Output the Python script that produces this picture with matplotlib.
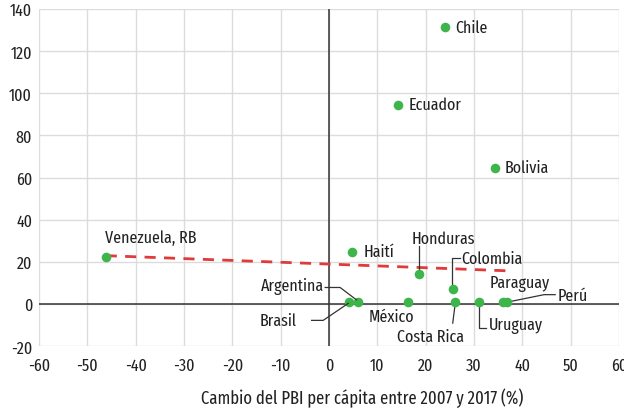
import matplotlib
matplotlib.use("Agg")
import matplotlib.pyplot as plt

countries = ["Chile", "Ecuador", "Bolivia", "Venezuela, RB", "Haití", "Honduras",
             "Colombia", "Argentina", "Brasil", "México", "Costa Rica", "Uruguay",
             "Paraguay", "Perú"]
gdp_change = [23.9, 14.2, 34.3, -46.2, 4.7, 18.6, 25.7, 5.9, 4.1, 16.4, 26.1, 31.1, 36.1, 36.8]
y_values = [131.3, 94.6, 64.8, 22.2, 24.9, 14.2, 7.2, 1.2, 1.2, 1.2, 1.2, 1.2, 1.2, 1.2]

trend_x = [-46.2, 37.0]
trend_y = [23.0, 15.8]

xticks = list(range(-60, 61, 10))
yticks = list(range(-20, 141, 20))

plt.rcParams["font.family"] = ["Fira Sans Extra Condensed", "DejaVu Sans"]
plt.rcParams["axes.unicode_minus"] = False

fig = plt.figure(figsize=(6.24, 4.14), dpi=100)
ax = fig.add_axes([39/624, 1-347.3/414, (619-39)/624, (347.3-10)/414])

ax.set_xlim(-60, 60)
ax.set_ylim(-20, 140)
ax.set_xticks(xticks)
ax.set_yticks(yticks)
ax.grid(True, color="#dcdcdc", linewidth=1)
ax.set_axisbelow(True)
for s in ax.spines.values():
    s.set_visible(False)
ax.tick_params(length=0, labelsize=12.5, colors="#222222", pad=5)
ax.tick_params(axis="x", pad=8)
ax.axhline(0, color="#333333", linewidth=1.1, zorder=1)
ax.axvline(0, color="#333333", linewidth=1.1, zorder=1)

ax.plot(trend_x, trend_y, color="#e03a3a", linestyle=(0, (4, 3)), linewidth=2, zorder=2)
ax.scatter(gdp_change, y_values, s=48, color="#3db54a", zorder=3, linewidths=0)

fs = 12.5
tc = "#222222"
lc = "#333333"
lw = 0.9

def txt(name, x, y, ha="left", va="center"):
    ax.text(x, y, name, fontsize=fs, color=tc, ha=ha, va=va, zorder=4)

txt("Chile", 26.1, 131.3)
txt("Ecuador", 16.4, 94.6)
txt("Bolivia", 36.4, 64.8)
txt("Venezuela, RB", -46.4, 31.7)
txt("Haití", 7.1, 24.9)
txt("Honduras", 23.7, 31.2, ha="center")
txt("Colombia", 27.4, 21.7)
txt("Argentina", -1.0, 8.8, ha="right")
txt("Brasil", -6.8, -7.5, ha="right")
txt("México", 13.0, -5.6, ha="center")
txt("Costa Rica", 20.9, -15.3, ha="center")
txt("Uruguay", 33.0, -9.9)
txt("Paraguay", 39.4, 9.9, ha="center")
txt("Perú", 47.3, 4.4)

# leader lines
ax.plot([18.6, 18.6], [27.4, 15.5], color=lc, lw=lw, zorder=2)
ax.plot([27.0, 25.5, 25.5], [21.7, 21.7, 9.0], color=lc, lw=lw, zorder=2)
ax.plot([-0.8, 2.3, 5.7], [7.9, 7.9, 2.0], color=lc, lw=lw, zorder=4)
ax.plot([-3.6, -1.2, 4.0], [-7.7, -7.7, 0.4], color=lc, lw=lw, zorder=4)
ax.plot([26.1, 25.6], [0.0, -9.0], color=lc, lw=lw, zorder=2)
ax.plot([31.1, 31.1, 32.5], [0.0, -11.3, -11.3], color=lc, lw=lw, zorder=2)
ax.plot([37.4, 44.5, 46.8], [1.2, 4.5, 4.5], color=lc, lw=lw, zorder=2)

fig.text(362/624, 1-398/414, "Cambio del PBI per cápita entre 2007 y 2017 (%)",
         ha="center", va="center", fontsize=13, color=tc)

fig.savefig("out.png", dpi=100, facecolor="white")
